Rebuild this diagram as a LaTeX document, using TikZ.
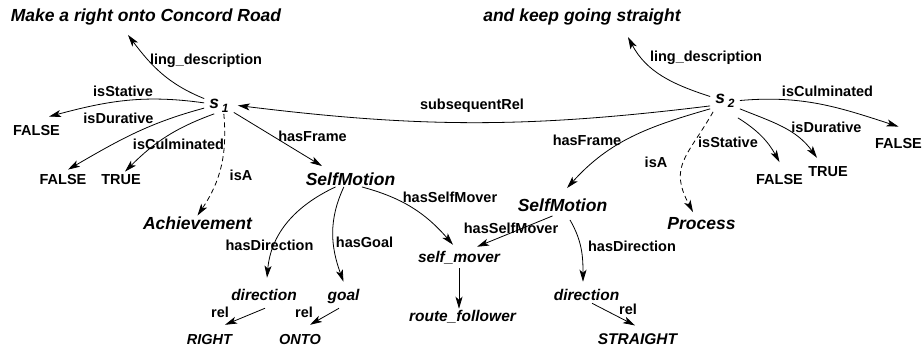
\documentclass[tikz,border=0pt]{standalone}
\usepackage{fontspec}
\setmainfont{Liberation Sans}
\usepackage{tikz}
\usetikzlibrary{arrows.meta,positioning}
\newcommand{\fbig}{\fontsize{17.5}{20}\selectfont\bfseries\itshape}
\newcommand{\fmid}{\fontsize{15.5}{18}\selectfont\bfseries\itshape}
\newcommand{\fsml}{\fontsize{14.5}{17}\selectfont\bfseries\itshape}
\newcommand{\flbl}{\fontsize{14.5}{17}\selectfont\bfseries}
\newcommand{\fsub}{\fontsize{12}{14}\selectfont\bfseries\itshape}

\begin{document}
\begin{tikzpicture}[
  x=1pt,y=1pt,
  big/.style={font=\fbig,inner sep=1.5pt,text height=12.5pt,text depth=0pt},
  mid/.style={font=\fmid,inner sep=1.5pt,text height=11.1pt,text depth=0pt},
  sml/.style={font=\fsml,inner sep=1.5pt,text height=10.4pt,text depth=0pt},
  lbl/.style={font=\flbl,inner sep=1.5pt,text height=10.4pt,text depth=0pt},
  sit/.style={font=\fbig,inner xsep=5pt,inner ysep=1.5pt,text height=9.3pt,text depth=4pt},
  lnk/.style={-{Stealth[length=12pt,width=7pt,inset=3pt]},line width=0.8pt},
  lnkd/.style={lnk,dash pattern=on 5pt off 3.5pt},
]
\useasboundingbox (0,0) rectangle (923,349);
\node[big] (tl1) at (146,334) {Make a right onto Concord Road};
\node[big] (tl2) at (582,333.5) {and keep going straight};
\node[sit] (s1) at (219,243.5) {s\,\raisebox{-4pt}{\fsub 1}};
\node[sit] (s2) at (725,248.5) {s\,\raisebox{-4pt}{\fsub 2}};
\node[lbl] (f1) at (36.5,218.5) {FALSE};
\node[lbl] (f2) at (63,169.5) {FALSE};
\node[lbl] (t1) at (121,169.5) {TRUE};
\node[lbl] (f3) at (779.5,170) {FALSE};
\node[lbl] (t2) at (828,178) {TRUE};
\node[lbl] (f4) at (898.5,205.5) {FALSE};
\node[big] (ach) at (197.5,125.5) {Achievement};
\node[big] (proc) at (701.5,126) {Process};
\node[big] (sm1) at (350.5,170) {SelfMotion};
\node[big] (sm2) at (562.5,144) {SelfMotion};
\node[mid] (dir1) at (264,54.5) {direction};
\node[mid] (goal) at (343.5,54.5) {goal};
\node[mid] (dir2) at (586.5,54.5) {direction};
\node[mid] (mover) at (459,92) {self\_mover};
\node[mid] (route) at (462.5,33) {route\_follower};
\node[mid] (strt) at (637.5,10) {STRAIGHT};
\node[sml] (rgt) at (209.5,10) {RIGHT};
\node[sml] (onto) at (300,10) {ONTO};

\node[lbl] (ling1) at (206,290) {ling\_description};
\node[lbl] (stat1) at (123,257.5) {isStative};
\node[lbl] (dur1) at (118.5,230.5) {isDurative};
\node[lbl] (cul1) at (178.5,204.5) {isCulminated};
\node[lbl] (isa1) at (241,174) {isA};
\node[lbl] (frm1) at (312.5,212.5) {hasFrame};
\node[lbl] (subs) at (472,245) {subsequentRel};
\node[lbl] (mov1) at (450,152) {hasSelfMover};
\node[lbl] (dirl1) at (269.5,103.5) {hasDirection};
\node[lbl] (gl) at (364.5,106.5) {hasGoal};
\node[lbl] (rel1) at (220,37) {rel};
\node[lbl] (rel2) at (304,37) {rel};
\node[lbl] (ling2) at (706,293) {ling\_description};
\node[lbl] (cul2) at (827.5,258) {isCulminated};
\node[lbl] (dur2) at (826.5,221.5) {isDurative};
\node[lbl] (stat2) at (728,206.7) {isStative};
\node[lbl] (frm2) at (587,208.5) {hasFrame};
\node[lbl] (isa2) at (656,187) {isA};
\node[lbl] (mov2) at (511,121) {hasSelfMover};
\node[lbl] (dirl2) at (632,102.5) {hasDirection};
\node[lbl] (rel3) at (628,40) {rel};

\draw[lnk] (s1.155) to[out=158,in=-53] ([shift={(-18,-12)}]tl1.south);
\draw[lnk] (s1.170) to[out=172,in=15] ([shift={(12.5,7)}]f1.north);
\draw[lnk] (s1.190) to[out=195,in=30] ([shift={(5,3)}]f2.north);
\draw[lnk] (s1.240) to[out=200,in=45] ([shift={(4,1)}]t1.north);
\draw[lnkd] (s1.300) to[out=-85,in=56] (ach.north);
\draw[lnk] (s1.-25) -- ([shift={(-28.5,5)}]sm1.north);
\draw[lnk] (s2.200) to[out=187,in=-7] ([xshift=4pt]s1.east);
\draw[lnk] (s2.165) to[out=162,in=-62] ([shift={(46,-13.7)}]tl2.south);
\draw[lnk] (s2.east) to[out=5,in=162] ([yshift=10pt]f4.north);
\draw[lnk] (s2.south east) to[out=-22,in=126] ([shift={(-11,6.3)}]t2.north);
\draw[lnk] ([shift={(-2,-9)}]s2.south east) to[out=-32,in=119] ([yshift=10pt]f3.north);
\draw[lnk] (s2.south west) to[out=196,in=48] ([shift={(4.5,9)}]sm2.north);
\draw[lnkd] ([shift={(3,-3)}]s2.south west) to[out=240,in=118,looseness=1.3] ([shift={(-8.5,3)}]proc.north);
\draw[lnk] (sm1.-35) to[out=-15,in=131] ([shift={(-6,5)}]mover.north);
\draw[lnk] ([shift={(-10,-3)}]sm2.south) -- ([shift={(18,3)}]mover.north);
\draw[lnk] ([yshift=-4pt]mover.south) -- (mover.south |- route.north);
\draw[lnk] (sm1.-152) to[out=205,in=85] ([shift={(3,9.5)}]dir1.north);
\draw[lnk] (sm1.-130) to[out=245,in=110] ([yshift=5.5pt]goal.north);
\draw[lnk] ([shift={(1,-6.5)}]dir1.south) -- ([shift={(15.5,7.3)}]rgt.north);
\draw[lnk] ([shift={(-4.5,-6.5)}]goal.south) -- ([shift={(10,7.3)}]onto.north);
\draw[lnk] ([shift={(7.5,-7)}]sm2.south) to[out=-60,in=90] ([shift={(-3.5,5.5)}]dir2.north);
\draw[lnk] ([shift={(5.5,-1.5)}]dir2.south) -- ([shift={(-2.5,6.3)}]strt.north);
\end{tikzpicture}
\end{document}
